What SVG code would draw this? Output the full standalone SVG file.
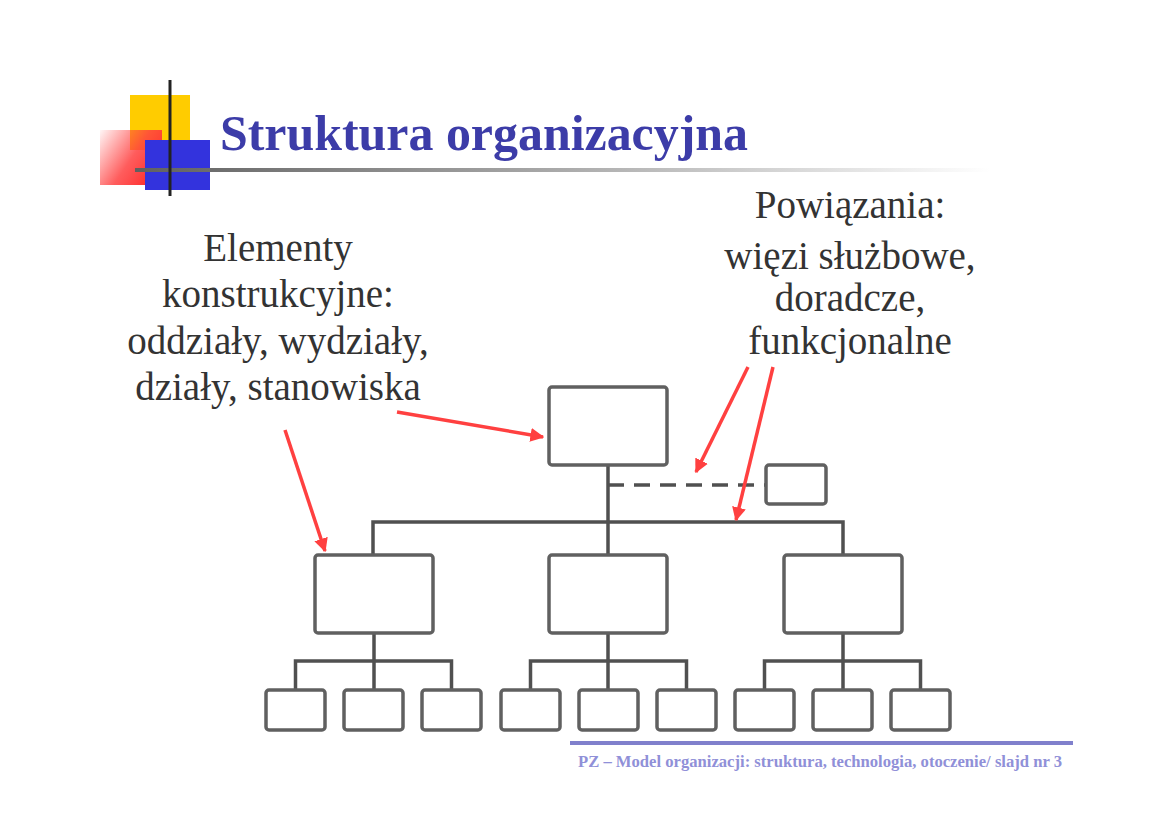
<svg xmlns="http://www.w3.org/2000/svg" width="1169" height="826" viewBox="0 0 1169 826">
<defs>
<style>
.box{fill:#fff;stroke:#606060;stroke-width:3.5}
.ln{fill:none;stroke:#505050;stroke-width:3.5}
.dash{fill:none;stroke:#505050;stroke-width:3.5;stroke-dasharray:16 10}
.red{fill:none;stroke:#ff4040;stroke-width:3.5}
.lbl{font-family:"Liberation Serif",serif;font-size:39px;fill:#333;text-anchor:middle}
.title{font-family:"Liberation Serif",serif;font-size:50px;font-weight:bold;fill:#3c3ca8}
.foot{font-family:"Liberation Serif",serif;font-size:16px;font-weight:bold;fill:#9090d8}
</style>
<marker id="ah" viewBox="0 0 10 10" refX="9" refY="5" markerWidth="4" markerHeight="4" orient="auto" markerUnits="strokeWidth">
<path d="M0,0 L10,5 L0,10 z" fill="#ff4040"/>
</marker>
<linearGradient id="redg" x1="0" y1="0" x2="1" y2="0.6">
<stop offset="0" stop-color="#ff4040" stop-opacity="0.05"/>
<stop offset="0.6" stop-color="#ff4040" stop-opacity="0.85"/>
<stop offset="1" stop-color="#ff3030"/>
</linearGradient>
<linearGradient id="hl" x1="0" y1="0" x2="1" y2="0">
<stop offset="0" stop-color="#606060"/>
<stop offset="0.5" stop-color="#aaaaaa"/>
<stop offset="1" stop-color="#ffffff"/>
</linearGradient>
</defs>
<rect width="1169" height="826" fill="#fff"/>
<g id="decor">
<rect x="130" y="95" width="60" height="55" fill="#ffcc00"/>
<rect x="100" y="130" width="62" height="55" fill="url(#redg)"/>
<rect x="145" y="140" width="65" height="50" fill="#3333dd"/>
<rect x="135" y="168" width="855" height="4" fill="url(#hl)"/>
<line x1="170" y1="80" x2="170" y2="196" stroke="#222" stroke-width="3"/>
</g>
<g id="title"><text class="title" x="220" y="150" textLength="528" lengthAdjust="spacingAndGlyphs">Struktura organizacyjna</text></g>
<g id="label-left">
<text class="lbl" x="278" y="261">Elementy</text>
<text class="lbl" x="278" y="307">konstrukcyjne:</text>
<text class="lbl" x="278" y="354">oddziały, wydziały,</text>
<text class="lbl" x="278" y="400">działy, stanowiska</text>
</g>
<g id="label-right">
<text class="lbl" x="850" y="218">Powiązania:</text>
<text class="lbl" x="850" y="269">więzi służbowe,</text>
<text class="lbl" x="850" y="311">doradcze,</text>
<text class="lbl" x="850" y="354">funkcjonalne</text>
</g>
<g id="connectors">
<path class="ln" d="M608,465 V555 M373,555 V522 H843 V555"/>
<path class="dash" d="M608,485 H766"/>
<path class="ln" d="M374,633 V690 M295.5,690 V661 H451.5 V690"/>
<path class="ln" d="M608,633 V690 M530.5,690 V661 H686.5 V690"/>
<path class="ln" d="M843,633 V690 M764.5,690 V661 H920.5 V690"/>
<line class="red" x1="397" y1="412" x2="543" y2="437" marker-end="url(#ah)"/>
<line class="red" x1="285" y1="430" x2="325" y2="551" marker-end="url(#ah)"/>
<line class="red" x1="748" y1="367" x2="696" y2="472" marker-end="url(#ah)"/>
<line class="red" x1="773" y1="367" x2="736" y2="520" marker-end="url(#ah)"/>
</g>
<g id="node-top"><rect class="box" x="549" y="387" width="118" height="78" rx="3"/></g>
<g id="node-staff"><rect class="box" x="766" y="465" width="60" height="39" rx="3"/></g>
<g id="node-mid1"><rect class="box" x="315" y="555" width="118" height="78" rx="3"/></g>
<g id="node-mid2"><rect class="box" x="549" y="555" width="118" height="78" rx="3"/></g>
<g id="node-mid3"><rect class="box" x="784" y="555" width="118" height="78" rx="3"/></g>
<g id="node-b1"><rect class="box" x="266" y="690" width="59" height="40" rx="3"/></g>
<g id="node-b2"><rect class="box" x="344" y="690" width="59" height="40" rx="3"/></g>
<g id="node-b3"><rect class="box" x="422" y="690" width="59" height="40" rx="3"/></g>
<g id="node-b4"><rect class="box" x="501" y="690" width="59" height="40" rx="3"/></g>
<g id="node-b5"><rect class="box" x="579" y="690" width="59" height="40" rx="3"/></g>
<g id="node-b6"><rect class="box" x="657" y="690" width="59" height="40" rx="3"/></g>
<g id="node-b7"><rect class="box" x="735" y="690" width="59" height="40" rx="3"/></g>
<g id="node-b8"><rect class="box" x="813" y="690" width="59" height="40" rx="3"/></g>
<g id="node-b9"><rect class="box" x="891" y="690" width="59" height="40" rx="3"/></g>
<g id="footer">
<line x1="570" y1="743" x2="1073" y2="743" stroke="#8080cc" stroke-width="4"/>
<text class="foot" x="578" y="767" textLength="484" lengthAdjust="spacingAndGlyphs">PZ – Model organizacji: struktura, technologia, otoczenie/ slajd nr 3</text>
</g>
</svg>
